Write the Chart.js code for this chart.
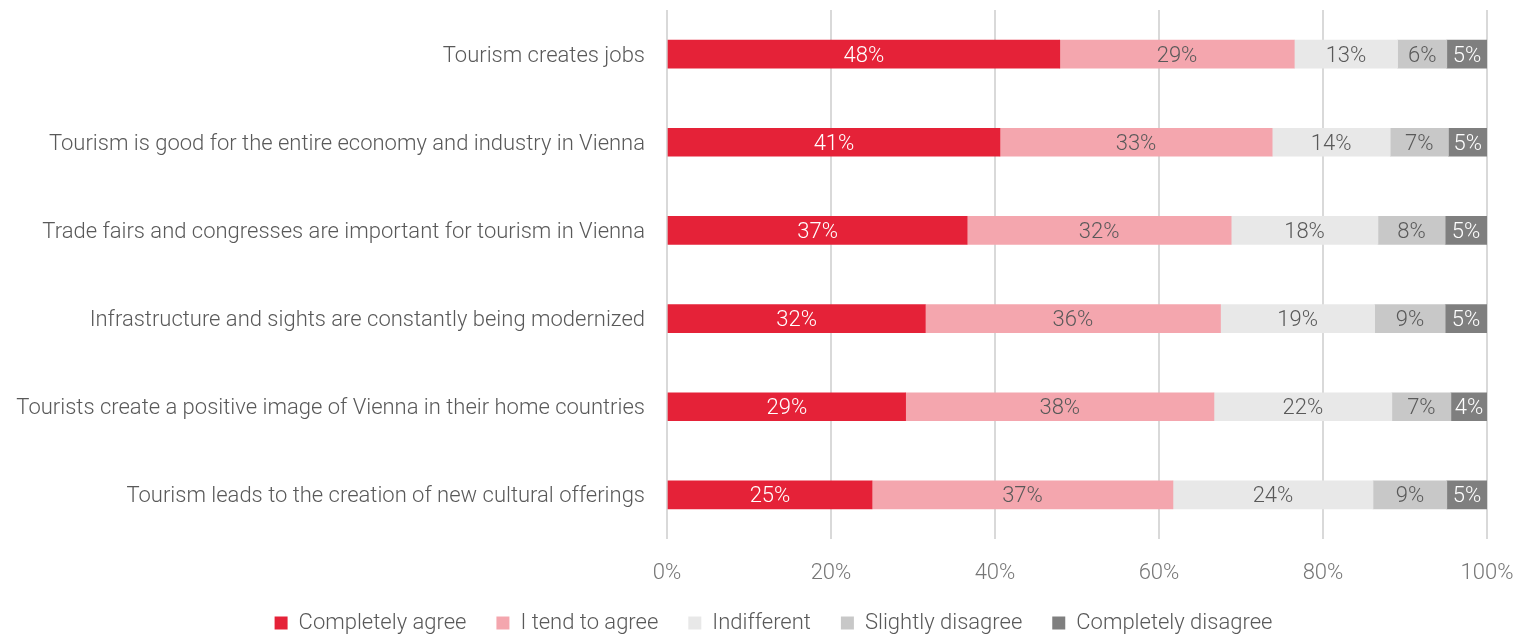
<!DOCTYPE html>
<html>
<head>
<meta charset="utf-8">
<script src="https://cdn.jsdelivr.net/npm/chart.js@4/dist/chart.umd.min.js"></script>
<style>
  html, body { margin: 0; padding: 0; background: #ffffff; }
  #wrap { width: 1517px; height: 634px; position: relative; }
</style>
</head>
<body>
<div id="wrap"><canvas id="c" width="1517" height="634"></canvas></div>
<script>
const categories = [
  "Tourism creates jobs",
  "Tourism is good for the entire economy and industry in Vienna",
  "Trade fairs and congresses are important for tourism in Vienna",
  "Infrastructure and sights are constantly being modernized",
  "Tourists create a positive image of Vienna in their home countries",
  "Tourism leads to the creation of new cultural offerings"
];
const seriesNames = ["Completely agree", "I tend to agree", "Indifferent", "Slightly disagree", "Completely disagree"];
const completelyAgree    = [47.9, 40.6, 36.6, 31.5, 29.1, 25.0];
const tendToAgree        = [28.6, 33.2, 32.2, 36.0, 37.6, 36.7];
const indifferent        = [12.6, 14.4, 17.9, 18.8, 21.7, 24.4];
const slightlyDisagree   = [6.0, 7.1, 8.2, 8.6, 7.2, 9.0];
const completelyDisagree = [4.9, 4.7, 5.1, 5.1, 4.4, 4.9];
const xTicks = [0, 20, 40, 60, 80, 100];

const seriesValues = [completelyAgree, tendToAgree, indifferent, slightlyDisagree, completelyDisagree];
const colors = ["#E52238", "#F4A6AE", "#E8E8E8", "#C8C8C8", "#7F7F7F"];
const labelColors = ["#FFFFFF", "#595959", "#595959", "#595959", "#FFFFFF"];
const FONT = "Roboto";
const FS = 22;
const LEGEND_SHIFT = 30;

const barLabels = {
  id: "barLabels",
  afterLayout(chart) {
    const lg = chart.legend;
    if (lg) { lg.left += LEGEND_SHIFT; lg.right += LEGEND_SHIFT; }
  },
  afterDatasetsDraw(chart) {
    const ctx = chart.ctx;
    ctx.save();
    ctx.font = "300 " + FS + "px " + FONT;
    ctx.textAlign = "center";
    ctx.textBaseline = "middle";
    chart.data.datasets.forEach((ds, di) => {
      const meta = chart.getDatasetMeta(di);
      meta.data.forEach((el, i) => {
        const v = ds.data[i];
        const cx = (el.x + el.base) / 2;
        ctx.fillStyle = labelColors[di];
        ctx.fillText(Math.round(v) + "%", cx, el.y + 2);
      });
    });
    ctx.restore();
  }
};

new Chart(document.getElementById("c"), {
  type: "bar",
  data: {
    labels: categories,
    datasets: seriesNames.map((n, i) => ({
      label: n,
      data: seriesValues[i],
      backgroundColor: colors[i],
      borderWidth: 0,
      barThickness: 28
    }))
  },
  options: {
    indexAxis: "y",
    responsive: false,
    animation: false,
    layout: { padding: { top: 10, right: 30, left: 0, bottom: 0 } },
    scales: {
      x: {
        stacked: true,
        min: 0,
        max: 100,
        afterBuildTicks(scale) { scale.ticks = xTicks.map(v => ({ value: v })); },
        afterFit(scale) { scale.height = 43; scale.paddingLeft = 0; scale.paddingRight = 0; },
        grid: { color: "#D9D9D9", lineWidth: 2, drawTicks: false },
        border: { display: false },
        ticks: {
          padding: 21,
          color: "#767676",
          font: { family: FONT, size: FS, weight: 300 },
          callback: v => v + "%"
        }
      },
      y: {
        stacked: true,
        afterFit(scale) { scale.width = 667; scale.paddingTop = 0; scale.paddingBottom = 0; },
        grid: { display: false, drawTicks: false },
        border: { display: false },
        ticks: {
          padding: 22,
          labelOffset: 2,
          color: "#595959",
          font: { family: FONT, size: FS, weight: 300 }
        }
      }
    },
    plugins: {
      legend: {
        position: "bottom",
        maxHeight: 52,
        labels: {
          boxWidth: 13,
          boxHeight: 13,
          padding: 30,
          color: "#595959",
          font: { family: FONT, size: FS, weight: 300 }
        }
      },
      tooltip: { enabled: false }
    }
  },
  plugins: [barLabels]
});
</script>
</body>
</html>
